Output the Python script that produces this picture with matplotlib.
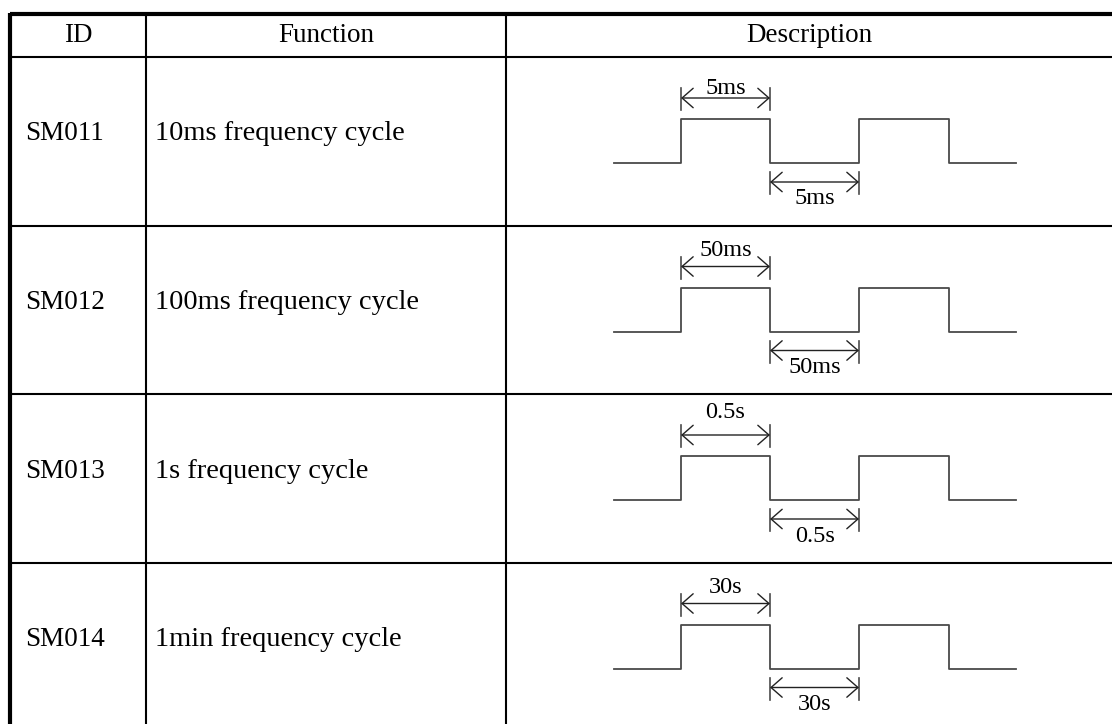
import matplotlib
matplotlib.use("Agg")
import matplotlib.pyplot as plt

# table content
headers = ["ID", "Function", "Description"]
ids = ["SM011", "SM012", "SM013", "SM014"]
functions = [
    "10ms frequency cycle",
    "100ms frequency cycle",
    "1s frequency cycle",
    "1min frequency cycle",
]
half_periods = ["5ms", "50ms", "0.5s", "30s"]
levels = [0, 1, 0, 1, 0]  # square wave, low/high between edges

# layout (pixels)
W, H = 1112, 724
col_x = [10, 146, 506, W + 10]
header_top, header_bot = 14, 57
row_h = 168.5
wave_start, wave_end = 614, 1016
edges = [681, 770, 859, 949]
top_label_dy = [32, 25, 19, 25]

plt.rcParams["font.family"] = ["Liberation Serif", "DejaVu Serif"]

fig = plt.figure(figsize=(W / 100, H / 100), dpi=100)
ax = fig.add_axes([0, 0, 1, 1])
ax.set_xlim(0, W)
ax.set_ylim(H, 0)
ax.axis("off")

n = len(ids)
bottom = header_bot + n * row_h

# outer borders
ax.plot([col_x[0], W + 10], [header_top, header_top], color="black", lw=3, solid_capstyle="butt")
ax.plot([col_x[0], col_x[0]], [header_top - 1.5, bottom], color="black", lw=3, solid_capstyle="butt")
# inner lines
for x in col_x[1:3]:
    ax.plot([x, x], [header_top, bottom], color="black", lw=1.5)
for i in range(n + 1):
    y = header_bot + i * row_h
    ax.plot([col_x[0], W + 10], [y, y], color="black", lw=1.5)

# header text
for i, h in enumerate(headers):
    cx = (col_x[i] + min(col_x[i + 1], W)) / 2
    ax.text(cx, (header_top + header_bot) / 2, h, ha="center", va="center", fontsize=19.5)

lc = "#4a4a4a"
arrow = dict(arrowstyle="<->,head_length=0.4,head_width=0.35",
             mutation_scale=20, color="#222222", lw=1.0, shrinkA=0, shrinkB=0)
for i in range(n):
    top = header_bot + i * row_h
    ax.text(25, top + 77, ids[i], ha="left", va="center", fontsize=19.5)
    ax.text(155, top + 77, functions[i], ha="left", va="center", fontsize=20.5)

    hi, lo = top + 62, top + 106
    xs = [wave_start] + edges + [wave_end]
    px, py = [], []
    for k, lev in enumerate(levels):
        y = hi if lev else lo
        px += [xs[k], xs[k + 1]]
        py += [y, y]
    ax.plot(px, py, color=lc, lw=1.3)

    # top dimension (high time)
    ya = top + 41
    for x in (edges[0], edges[1]):
        ax.plot([x, x], [ya - 10, ya + 12], color=lc, lw=1.2)
    ax.annotate("", xy=(edges[1], ya), xytext=(edges[0], ya), arrowprops=arrow)
    ax.text((edges[0] + edges[1]) / 2, top + top_label_dy[i], half_periods[i],
            ha="center", va="center", fontsize=17.5)

    # bottom dimension (low time)
    yb = top + 125
    for x in (edges[1], edges[2]):
        ax.plot([x, x], [yb - 10, yb + 12], color=lc, lw=1.2)
    ax.annotate("", xy=(edges[2], yb), xytext=(edges[1], yb), arrowprops=arrow)
    ax.text((edges[1] + edges[2]) / 2 + 0.5, top + 142, half_periods[i],
            ha="center", va="center", fontsize=17.5)

fig.savefig("out.png", dpi=100)
